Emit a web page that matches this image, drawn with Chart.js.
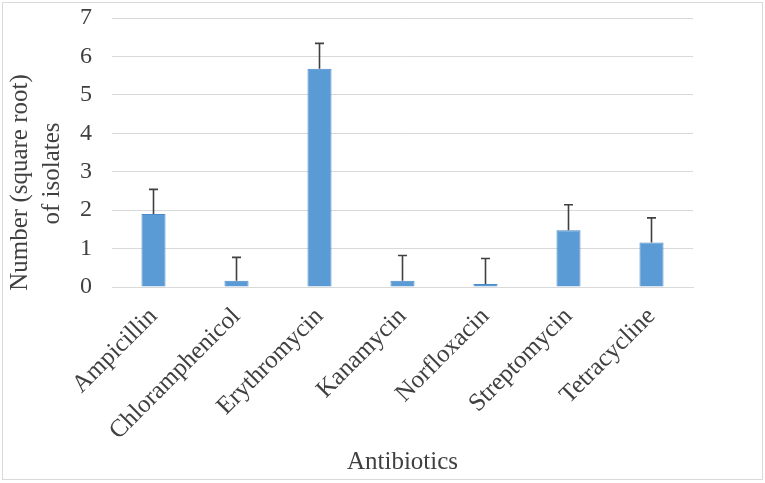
<!DOCTYPE html>
<html>
<head>
<meta charset="utf-8">
<script src="https://cdn.jsdelivr.net/npm/chart.js@4"></script>
<style>
html,body{margin:0;padding:0;background:#fff;}
#wrap{width:765px;height:483px;position:relative;}
</style>
</head>
<body>
<div id="wrap"><canvas id="c"></canvas></div>
<script>
const categories = ["Ampicillin","Chloramphenicol","Erythromycin","Kanamycin","Norfloxacin","Streptomycin","Tetracycline"];
const values = [1.90, 0.16, 5.68, 0.16, 0.08, 1.48, 1.16];
const errors = [0.64, 0.61, 0.66, 0.66, 0.66, 0.66, 0.64];
const yTicks = [0,1,2,3,4,5,6,7];
const xTitle = "Antibiotics";
const yTitle = ["Number (square root)", "of isolates"];

const FONT = "'Liberation Serif', 'Times New Roman', serif";
const TEXT = '#404040';

const errorBars = {
  id: 'errorBars',
  afterDatasetsDraw(chart) {
    const meta = chart.getDatasetMeta(0);
    const ys = chart.scales.y;
    const ctx = chart.ctx;
    ctx.save();
    ctx.strokeStyle = '#404040';
    ctx.lineWidth = 1.6;
    meta.data.forEach((bar, i) => {
      const x = bar.x;
      const y0 = ys.getPixelForValue(values[i]);
      const y1 = ys.getPixelForValue(values[i] + errors[i]);
      ctx.beginPath();
      ctx.moveTo(x, y0);
      ctx.lineTo(x, y1);
      ctx.moveTo(x - 4.5, y1);
      ctx.lineTo(x + 4.5, y1);
      ctx.stroke();
    });
    ctx.restore();
  }
};

// y-axis title, drawn a little below the axis centre as in the original
const yAxisTitle = {
  id: 'yAxisTitle',
  afterDraw(chart) {
    const ctx = chart.ctx;
    const ca = chart.chartArea;
    const cy = (ca.top + ca.bottom) / 2 + 26;
    ctx.save();
    ctx.fillStyle = TEXT;
    ctx.font = "25px " + FONT;
    ctx.textAlign = 'center';
    ctx.textBaseline = 'middle';
    const xs = [20, 52];
    yTitle.forEach((line, i) => {
      ctx.save();
      ctx.translate(xs[i], cy + (i === 0 ? 4 : -5));
      ctx.rotate(-Math.PI / 2);
      ctx.fillText(line, 0, 0);
      ctx.restore();
    });
    ctx.restore();
  }
};

const frame = {
  id: 'frame',
  beforeDraw(chart) {
    const ctx = chart.ctx;
    ctx.save();
    ctx.fillStyle = '#ffffff';
    ctx.fillRect(0, 0, chart.width, chart.height);
    ctx.strokeStyle = '#d9d9d9';
    ctx.lineWidth = 1;
    ctx.strokeRect(2.5, 2.5, 760, 477);
    ctx.restore();
  }
};

new Chart(document.getElementById('c'), {
  type: 'bar',
  data: {
    labels: categories,
    datasets: [{
      data: values,
      backgroundColor: '#5B9BD5',
      borderColor: '#4a89c6',
      borderWidth: 1,
      barPercentage: 0.58,
      categoryPercentage: 0.5
    }]
  },
  options: {
    responsive: true,
    maintainAspectRatio: false,
    animation: false,
    devicePixelRatio: 1,
    layout: { padding: { left: 4, right: 72, top: 18, bottom: 6 } },
    plugins: { legend: { display: false }, tooltip: { enabled: false } },
    scales: {
      x: {
        grid: { display: false, drawTicks: false },
        border: { display: true, color: '#d9d9d9', width: 1 },
        ticks: {
          color: TEXT,
          font: { family: FONT, size: 25 },
          minRotation: 45, maxRotation: 45,
          padding: 15
        },
        title: {
          display: true, text: xTitle, color: TEXT,
          font: { family: FONT, size: 25 }, padding: 0
        },
        afterFit(scale) {
          scale.height = 190;
          scale.paddingLeft = 0; scale.paddingRight = 0;
          scale.paddingTop = 0; scale.paddingBottom = 0;
        }
      },
      y: {
        min: 0, max: 7,
        afterBuildTicks(scale) { scale.ticks = yTicks.map(v => ({ value: v })); },
        grid: { color: '#d9d9d9', lineWidth: 1, drawTicks: false },
        border: { display: false },
        ticks: {
          color: TEXT,
          font: { family: FONT, size: 24 },
          padding: 20
        },
        title: { display: false },
        afterFit(scale) {
          scale.width = 108;
          scale.paddingTop = 0; scale.paddingBottom = 0;
          scale.paddingLeft = 0; scale.paddingRight = 0;
        }
      }
    }
  },
  plugins: [frame, errorBars, yAxisTitle]
});
</script>
</body>
</html>
